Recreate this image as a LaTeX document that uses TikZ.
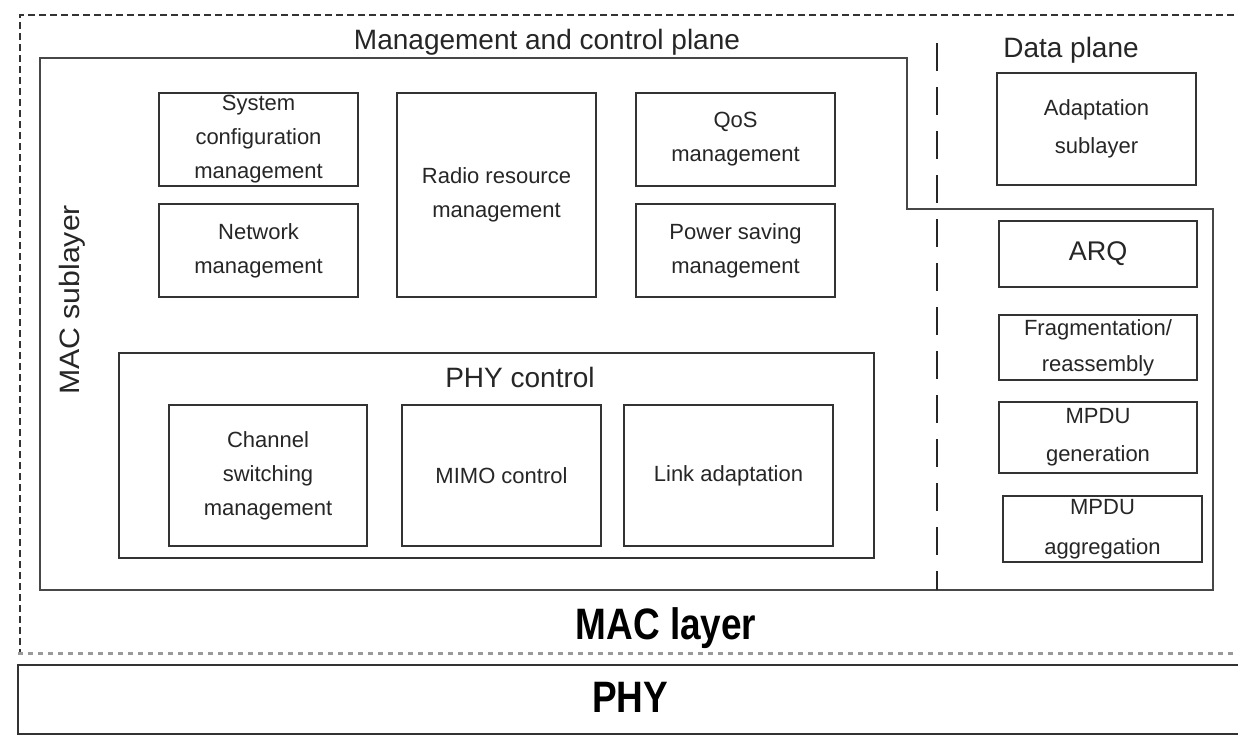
\documentclass[tikz,border=0pt]{standalone}
\usepackage{fontspec}
\setmainfont{Liberation Sans}
\usepackage{graphicx}
\definecolor{ink}{HTML}{262626}
\definecolor{edge}{HTML}{333333}
\definecolor{dotgray}{HTML}{9A9A9A}
\tikzset{
  fbox/.style={draw=edge, line width=1.6pt, rectangle, inner sep=0pt, align=center,
     text=ink, font=\fontsize{22}{34}\selectfont},
  rbox/.style={fbox, font=\fontsize{22}{38}\selectfont},
  head/.style={text=ink, inner sep=0pt, font=\fontsize{28}{30}\selectfont},
  big/.style={text=black, inner sep=0pt, font=\fontsize{44}{44}\selectfont\bfseries},
}
\begin{document}
\begin{tikzpicture}[x=1pt,y=-1pt]
\useasboundingbox (0,0) rectangle (1238,737);
\fill[white] (0,0) rectangle (1238,737);

% outer MAC layer boundary (dashed top and left, dotted bottom)
\coordinate (ot) at (1245,15);
\coordinate (otl) at (20,15);
\coordinate (obl) at (20,653);
\coordinate (obr) at (1245,653);
\draw[draw=edge, line width=2pt, dash pattern=on 7pt off 4pt] (ot) -- (otl) -- (obl);
\draw[draw=dotgray, line width=3pt, dash pattern=on 5pt off 5pt] (18,653) -- (obr);

% PHY box
\draw[draw=edge, line width=1.8pt] (1250,665) -- (18,665) -- (18,734) -- (1250,734);
\node[big] (phy) at (630,697) {\scalebox{0.84}[1]{PHY}};
\node[big] (maclayer) at (666,628) {\scalebox{0.84}[1]{MAC layer}};

% management and control plane outline
\draw[draw=edge!90, line width=1.8pt] (40,58) -- (907,58) -- (907,209) -- (1213,209) -- (1213,590) -- (40,590) -- cycle;

% dashed divider
\coordinate (dvt) at (937,43);
\coordinate (dvb) at (937,590);
\draw[draw=ink, line width=2.6pt, dash pattern=on 28pt off 16pt] (dvt) -- (dvb);

% headings
\node[head] (mcp) at (547,42) {Management and control plane};
\node[head] (dp) at (1071,50) {Data plane};
\node[head, rotate=90] (macsub) at (72,300) {\scalebox{1.08}[1]{MAC sublayer}};

% management boxes
\node[fbox, minimum width=199pt, minimum height=93pt] (sys) at (258.5,139.5) {System\\configuration\\management};
\node[fbox, minimum width=199pt, minimum height=93pt] (net) at (258.5,250.5) {Network\\management};
\node[fbox, minimum width=199pt, minimum height=204pt] (rrm) at (496.5,195) {Radio resource\\management};
\node[fbox, minimum width=199pt, minimum height=93pt] (qos) at (735.5,139.5) {QoS\\management};
\node[fbox, minimum width=199pt, minimum height=93pt] (psm) at (735.5,250.5) {Power saving\\management};

% PHY control
\node[fbox, minimum width=755pt, minimum height=205pt] (phyc) at (496.5,455.5) {};
\node[head] (phyct) at (520,377) {PHY control};
\node[fbox, minimum width=198pt, minimum height=141pt] (csm) at (268,475.5) {Channel\\switching\\management};
\node[fbox, minimum width=199pt, minimum height=141pt] (mimo) at (501.5,475.5) {MIMO control};
\node[fbox, minimum width=209pt, minimum height=141pt] (link) at (728.5,475.5) {Link adaptation};

% data plane boxes
\node[rbox, minimum width=199pt, minimum height=112pt] (adapt) at (1096.5,129) {Adaptation\\sublayer};
\node[rbox, minimum width=198pt, minimum height=66pt, font=\fontsize{27}{30}\selectfont] (arq) at (1098,254) {ARQ};
\node[rbox, minimum width=198pt, minimum height=65pt, font=\fontsize{22}{36}\selectfont] (frag) at (1098,347.5) {Fragmentation/\\reassembly};
\node[rbox, minimum width=198pt, minimum height=71pt] (gen) at (1098,437.5) {MPDU\\generation};
\node[rbox, minimum width=199pt, minimum height=66pt, font=\fontsize{22}{40}\selectfont] (agg) at (1102.5,529) {MPDU\\aggregation};
\end{tikzpicture}
\end{document}
